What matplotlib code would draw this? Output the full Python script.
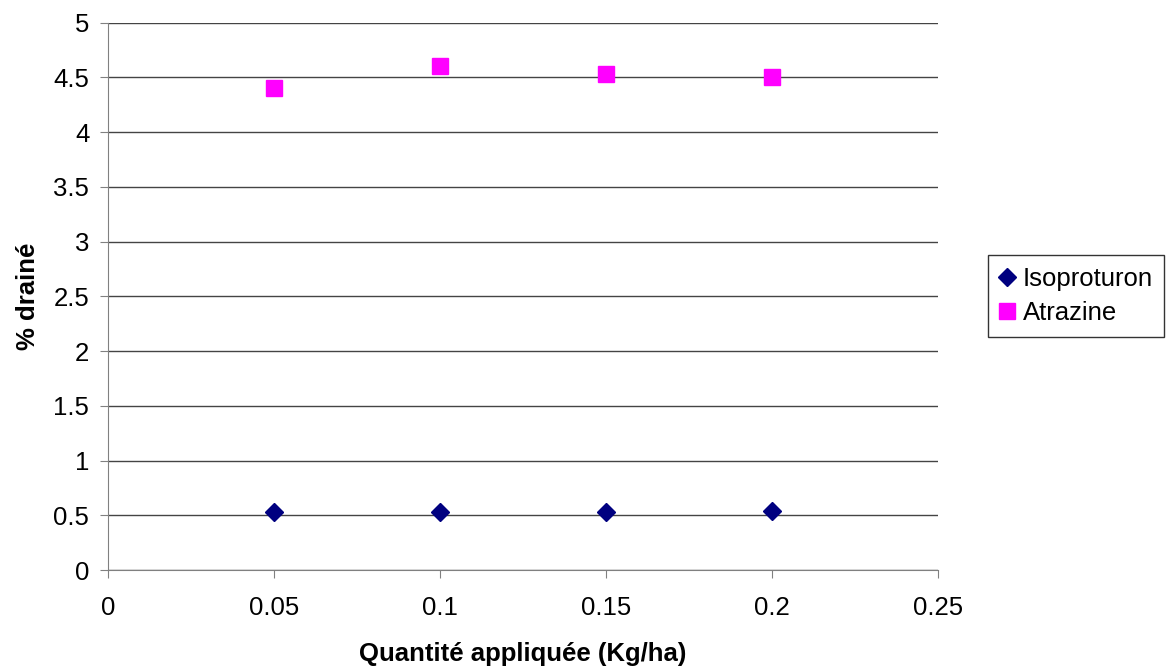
import matplotlib
matplotlib.use("Agg")
import matplotlib.pyplot as plt
from matplotlib.ticker import FuncFormatter, MultipleLocator

quantite = [0.05, 0.1, 0.15, 0.2]
isoproturon = [0.53, 0.53, 0.53, 0.535]
atrazine = [4.40, 4.60, 4.53, 4.50]

plt.rcParams["font.family"] = ["Liberation Sans", "DejaVu Sans"]

fig = plt.figure(figsize=(11.68, 6.68), dpi=100)
ax = fig.add_axes([0.0925, 0.1467, 0.803 - 0.0925, 0.9663 - 0.1467])

ax.plot(quantite, isoproturon, "D", color="#000080", ms=9, label="Isoproturon", zorder=3)
ax.plot(quantite, atrazine, "s", color="#FF00FF", ms=11, label="Atrazine", zorder=3)

ax.set_xlim(0, 0.25)
ax.set_ylim(0, 5)
ax.xaxis.set_major_locator(MultipleLocator(0.05))
ax.yaxis.set_major_locator(MultipleLocator(0.5))
fmt = FuncFormatter(lambda v, p: f"{v:g}")
ax.xaxis.set_major_formatter(fmt)
ax.yaxis.set_major_formatter(fmt)
ax.grid(axis="y", color="#444444", lw=1)
ax.set_axisbelow(True)
for s in ("top", "right"):
    ax.spines[s].set_visible(False)
for s in ("left", "bottom"):
    ax.spines[s].set_color("#808080")
ax.tick_params(direction="out", length=5.5, color="#808080", labelsize=18.5)
ax.tick_params(axis="x", pad=13)
ax.tick_params(axis="y", pad=8)

ax.set_xlabel("Quantité appliquée (Kg/ha)", fontsize=18.5, fontweight="bold", labelpad=16)
ax.set_ylabel("% drainé", fontsize=18.5, fontweight="bold", labelpad=10)

leg = fig.legend(loc="center left", bbox_to_anchor=(988 / 1168, 1 - 296 / 668),
                 fontsize=18.5, frameon=True, fancybox=False, edgecolor="black",
                 handlelength=0.6, handletextpad=0.3, borderpad=0.45, labelspacing=0.4,
                 borderaxespad=0)
leg.get_frame().set_linewidth(1)
leg._legend_box.align = "left"
leg.get_frame().set_boxstyle("square", pad=0)

fig.savefig("out.png", dpi=100)
